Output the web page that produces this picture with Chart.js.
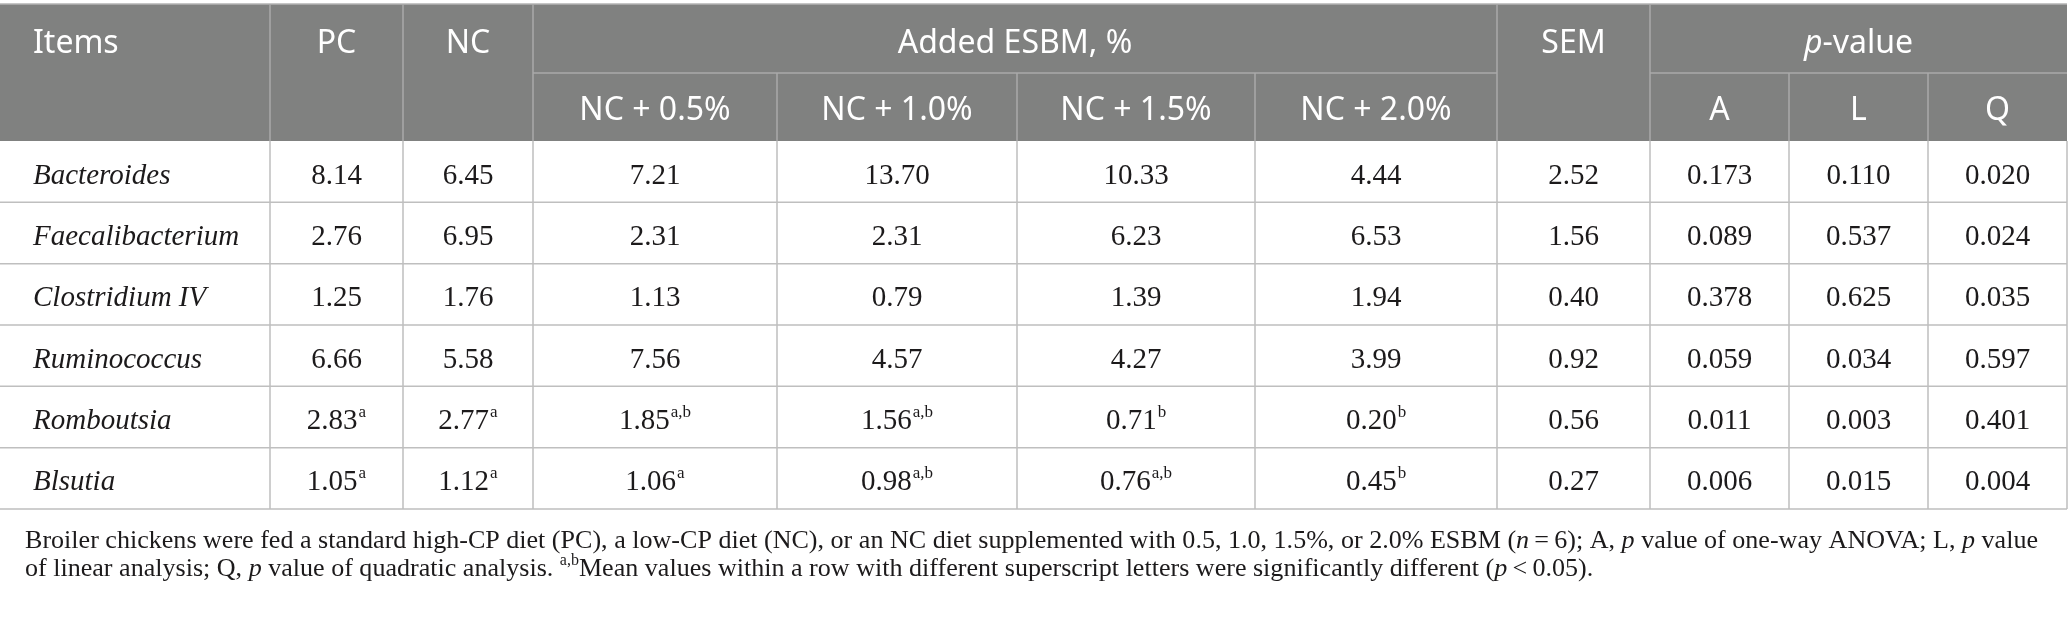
<!DOCTYPE html>
<html>
<head>
<meta charset="utf-8">
<script src="https://cdn.jsdelivr.net/npm/chart.js@4.4.1/dist/chart.umd.min.js"></script>
<style>
  html, body { margin: 0; padding: 0; background: #fff; }
  #wrap { width: 2068px; height: 624px; }
</style>
</head>
<body>
<div id="wrap"><canvas id="tbl" width="2068" height="624"></canvas></div>
<script>
// table data
const items = ['Bacteroides', 'Faecalibacterium', 'Clostridium IV', 'Ruminococcus', 'Romboutsia', 'Blsutia'];
const pcValues   = [8.14, 2.76, 1.25, 6.66, 2.83, 1.05];
const ncValues   = [6.45, 6.95, 1.76, 5.58, 2.77, 1.12];
const nc05Values = [7.21, 2.31, 1.13, 7.56, 1.85, 1.06];
const nc10Values = [13.70, 2.31, 0.79, 4.57, 1.56, 0.98];
const nc15Values = [10.33, 6.23, 1.39, 4.27, 0.71, 0.76];
const nc20Values = [4.44, 6.53, 1.94, 3.99, 0.20, 0.45];
const semValues  = [2.52, 1.56, 0.40, 0.92, 0.56, 0.27];
const pAnova     = [0.173, 0.089, 0.378, 0.059, 0.011, 0.006];
const pLinear    = [0.110, 0.537, 0.625, 0.034, 0.003, 0.015];
const pQuad      = [0.020, 0.024, 0.035, 0.597, 0.401, 0.004];

// superscript letters
const pcSup   = ['', '', '', '', 'a', 'a'];
const ncSup   = ['', '', '', '', 'a', 'a'];
const nc05Sup = ['', '', '', '', 'a,b', 'a'];
const nc10Sup = ['', '', '', '', 'a,b', 'a,b'];
const nc15Sup = ['', '', '', '', 'b', 'a,b'];
const nc20Sup = ['', '', '', '', 'b', 'b'];

// header labels
const headTop = ['Items', 'PC', 'NC', 'Added ESBM, %', 'SEM', 'p-value'];
const headSub = ['NC + 0.5%', 'NC + 1.0%', 'NC + 1.5%', 'NC + 2.0%', 'A', 'L', 'Q'];

// footnote
const noteLine1 = [
  { t: 'Broiler chickens were fed a standard high-CP diet (PC), a low-CP diet (NC), or an NC diet supplemented with 0.5, 1.0, 1.5%, or 2.0% ESBM (' },
  { t: 'n', i: true }, { t: '\u2009=\u20096); A, ' }, { t: 'p', i: true },
  { t: ' value of one-way ANOVA; L, ' }, { t: 'p', i: true }, { t: ' value' }
];
const noteLine2 = [
  { t: 'of linear analysis; Q, ' }, { t: 'p', i: true }, { t: ' value of quadratic analysis. ' },
  { t: 'a,b', sup: true },
  { t: 'Mean values within a row with different superscript letters were significantly different (' },
  { t: 'p', i: true }, { t: '\u2009<\u20090.05).' }
];

// layout (canvas units)
const W = 2068, H = 624;
const colEdges = [0, 270, 403, 533, 777, 1017, 1255, 1497, 1650, 1789, 1928, 2067];
const headY = [4, 73, 141];
const bodyTop = 141, bodyBottom = 509;
const rowH = (bodyBottom - bodyTop) / items.length;
const padLeft = 33;

const HEAD_BG = '#808180';
const HEAD_LINE = '#a9a9a9';
const GRID = '#bfbfbf';
const INK = '#1c1a1b';
const SANS = '"Noto Sans", "Open Sans", sans-serif';
const SERIF = '"Liberation Serif", "DejaVu Serif", serif';

const columns = [
  { vals: items, italic: true, left: true },
  { vals: pcValues, sup: pcSup, dp: 2 },
  { vals: ncValues, sup: ncSup, dp: 2 },
  { vals: nc05Values, sup: nc05Sup, dp: 2 },
  { vals: nc10Values, sup: nc10Sup, dp: 2 },
  { vals: nc15Values, sup: nc15Sup, dp: 2 },
  { vals: nc20Values, sup: nc20Sup, dp: 2 },
  { vals: semValues, dp: 2 },
  { vals: pAnova, dp: 3 },
  { vals: pLinear, dp: 3 },
  { vals: pQuad, dp: 3 }
];

function colMid(c) { return (colEdges[c] + colEdges[c + 1]) / 2; }
function rowMid(r) { return bodyTop + rowH * (r + 0.5); }

function drawRuns(ctx, runs, x, y, size) {
  runs.forEach(function(run) {
    if (run.sup) {
      ctx.font = Math.round(size * 0.62) + 'px ' + SERIF;
      ctx.fillText(run.t, x, y - size * 0.42);
    } else {
      ctx.font = (run.i ? 'italic ' : '') + size + 'px ' + SERIF;
      ctx.fillText(run.t, x, y);
    }
    x += ctx.measureText(run.t).width;
  });
}

function runsWidth(ctx, runs, size) {
  let w = 0;
  runs.forEach(function(run) {
    ctx.font = run.sup ? Math.round(size * 0.62) + 'px ' + SERIF : (run.i ? 'italic ' : '') + size + 'px ' + SERIF;
    w += ctx.measureText(run.t).width;
  });
  return w;
}

const tablePlugin = {
  id: 'tablePlugin',
  beforeDatasetsDraw(chart) {
    const ctx = chart.ctx;
    const sx = chart.scales.x, sy = chart.scales.y;
    const px = v => sx.getPixelForValue(v);
    const py = v => sy.getPixelForValue(v);
    const L = px(0), R = px(colEdges[colEdges.length - 1]);

    ctx.save();
    // header block
    ctx.fillStyle = HEAD_BG;
    ctx.fillRect(L, py(headY[0]), R - L, py(headY[2]) - py(headY[0]));
    ctx.strokeStyle = '#b3b3b3';
    ctx.lineWidth = 1.5;
    ctx.beginPath();
    ctx.moveTo(L, py(headY[0])); ctx.lineTo(R, py(headY[0]));
    ctx.stroke();

    ctx.strokeStyle = HEAD_LINE;
    ctx.beginPath();
    // split line under the spanning headers
    ctx.moveTo(px(colEdges[3]), py(headY[1])); ctx.lineTo(px(colEdges[7]), py(headY[1]));
    ctx.moveTo(px(colEdges[8]), py(headY[1])); ctx.lineTo(R, py(headY[1]));
    // full-height separators
    [1, 2, 3, 7, 8].forEach(function(c) {
      ctx.moveTo(px(colEdges[c]), py(headY[0])); ctx.lineTo(px(colEdges[c]), py(headY[2]));
    });
    // lower-row separators
    [4, 5, 6, 9, 10].forEach(function(c) {
      ctx.moveTo(px(colEdges[c]), py(headY[1])); ctx.lineTo(px(colEdges[c]), py(headY[2]));
    });
    ctx.stroke();

    // body grid
    ctx.strokeStyle = GRID;
    ctx.lineWidth = 1.5;
    ctx.beginPath();
    for (let r = 1; r <= items.length; r++) {
      const y = py(bodyTop + rowH * r);
      ctx.moveTo(L, y); ctx.lineTo(R, y);
    }
    for (let c = 1; c < colEdges.length; c++) {
      ctx.moveTo(px(colEdges[c]), py(bodyTop)); ctx.lineTo(px(colEdges[c]), py(bodyBottom));
    }
    ctx.stroke();

    // header text
    ctx.fillStyle = '#ffffff';
    ctx.textBaseline = 'alphabetic';
    const hs = 32;
    const topBase = py(headY[0] + 49);
    const subBase = py(headY[1] + 47);
    ctx.font = hs + 'px ' + SANS;
    ctx.textAlign = 'left';
    ctx.fillText(headTop[0], px(padLeft), topBase);
    ctx.textAlign = 'center';
    ctx.fillText(headTop[1], px(colMid(1)), topBase);
    ctx.fillText(headTop[2], px(colMid(2)), topBase);
    ctx.fillText(headTop[3], px((colEdges[3] + colEdges[7]) / 2), topBase);
    ctx.fillText(headTop[4], px(colMid(7)), topBase);
    // p-value with italic p
    const pvMid = px((colEdges[8] + colEdges[11]) / 2);
    ctx.font = 'italic ' + hs + 'px ' + SANS;
    const wp = ctx.measureText('p').width;
    ctx.font = hs + 'px ' + SANS;
    const wrest = ctx.measureText(headTop[5].slice(1)).width;
    ctx.textAlign = 'left';
    let xx = pvMid - (wp + wrest) / 2;
    ctx.font = 'italic ' + hs + 'px ' + SANS;
    ctx.fillText('p', xx, topBase);
    ctx.font = hs + 'px ' + SANS;
    ctx.fillText(headTop[5].slice(1), xx + wp, topBase);
    ctx.textAlign = 'center';
    headSub.forEach(function(lbl, k) {
      const c = k < 4 ? k + 3 : k + 4;
      ctx.fillText(lbl, px(colMid(c)), subBase);
    });

    // footnote, fitted to the printed line length
    ctx.fillStyle = INK;
    ctx.textAlign = 'left';
    const targetW = px(2039) - px(25);
    const fs = 21 * targetW / runsWidth(ctx, noteLine1, 21);
    drawRuns(ctx, noteLine1, px(25), py(548), fs);
    drawRuns(ctx, noteLine2, px(25), py(576), fs);
    ctx.restore();
  },
  afterDatasetsDraw(chart) {
    const ctx = chart.ctx;
    const bs = 29, ss = 17;
    ctx.save();
    ctx.fillStyle = INK;
    ctx.textBaseline = 'alphabetic';
    chart.data.datasets.forEach(function(ds, c) {
      const col = columns[c];
      const meta = chart.getDatasetMeta(c);
      meta.data.forEach(function(pt, r) {
        const base = pt.y + 12;
        if (col.left) {
          ctx.font = 'italic ' + bs + 'px ' + SERIF;
          ctx.textAlign = 'left';
          ctx.fillText(col.vals[r], chart.scales.x.getPixelForValue(colEdges[c] + padLeft), base);
          return;
        }
        const txt = col.vals[r].toFixed(col.dp);
        const sup = col.sup ? col.sup[r] : '';
        ctx.font = bs + 'px ' + SERIF;
        const w1 = ctx.measureText(txt).width;
        ctx.font = ss + 'px ' + SERIF;
        const w2 = sup ? ctx.measureText(sup).width + 1 : 0;
        const x0 = pt.x - (w1 + w2) / 2;
        ctx.textAlign = 'left';
        ctx.font = bs + 'px ' + SERIF;
        ctx.fillText(txt, x0, base);
        if (sup) {
          ctx.font = ss + 'px ' + SERIF;
          ctx.fillText(sup, x0 + w1 + 1, base - 12);
        }
      });
    });
    ctx.restore();
  }
};

new Chart(document.getElementById('tbl'), {
  type: 'scatter',
  data: {
    datasets: columns.map(function(col, c) {
      return {
        label: 'col' + c,
        data: items.map(function(_, r) { return { x: colMid(c), y: rowMid(r) }; }),
        pointRadius: 0,
        pointHoverRadius: 0
      };
    })
  },
  options: {
    responsive: false,
    animation: false,
    devicePixelRatio: 1,
    events: [],
    layout: { padding: 0 },
    plugins: { legend: { display: false }, tooltip: { enabled: false } },
    scales: {
      x: { type: 'linear', min: 0, max: W, display: false },
      y: { type: 'linear', min: 0, max: H, reverse: true, display: false }
    }
  },
  plugins: [tablePlugin]
});
</script>
</body>
</html>
